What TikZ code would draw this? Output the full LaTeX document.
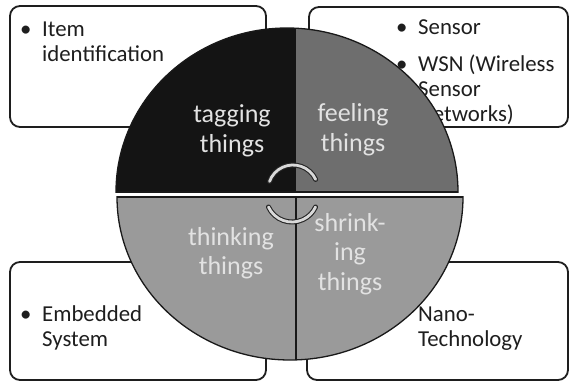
\documentclass[tikz,border=0pt]{standalone}
\usepackage{fontspec}
\setmainfont{Carlito}
\definecolor{topL}{HTML}{141414}
\definecolor{topR}{HTML}{6E6E6E}
\definecolor{botC}{HTML}{9A9A9A}
\definecolor{inText}{HTML}{E2E2E2}
\definecolor{boxText}{HTML}{1E1E1E}
\definecolor{boxLine}{HTML}{1E1E1E}
\tikzset{
  infobox/.style={draw=boxLine, line width=1.8pt, rounded corners=10pt, fill=white},
  boxlabel/.style={inner sep=0pt, anchor=base west, text=boxText, font=\fontsize{22.8}{25}\selectfont},
  seglabel/.style={inner sep=0pt, anchor=base, text=inText, font=\fontsize{26}{29.5}\selectfont},
  outline/.style={draw=black!90, line width=1.3pt},
  cyclearc/.style={draw=black!85, line width=1.1pt, double=black!15, double distance=2.8pt, line cap=round}
}
\begin{document}
\begin{tikzpicture}[x=1pt,y=-1pt]
\useasboundingbox (0,0) rectangle (570,382);
% boxes
\draw[infobox] (10,6) rectangle (266,127);
\draw[infobox] (309,7) rectangle (568,127);
\draw[infobox] (10,262) rectangle (266,380);
\draw[infobox] (307,262) rectangle (568,380);
% box texts
\node[boxlabel] (tl) at (20,37) {\begin{tabular}[t]{@{}p{22pt}@{}l@{}}•&Item\\&identification\end{tabular}};
\node[boxlabel] (tr) at (396,35) {\begin{tabular}[t]{@{}p{22pt}@{}l@{}}•&Sensor\\[12pt]•&WSN (Wireless\\&Sensor\\&Networks)\end{tabular}};
\node[boxlabel] (bl) at (20,321) {\begin{tabular}[t]{@{}p{22pt}@{}l@{}}•&Embedded\\&System\end{tabular}};
\node[boxlabel] (br) at (396,321) {\begin{tabular}[t]{@{}p{22pt}@{}l@{}}•&Nano-\\&Technology\end{tabular}};
% top half
\begin{scope}
  \clip (0,0) rectangle (570,192);
  \fill[topL] (287,192) ellipse[x radius=171pt, y radius=164pt];
  \clip (287,192) ellipse[x radius=171pt, y radius=164pt];
  \fill[topR] (296,0) rectangle (570,192);
\end{scope}
\begin{scope}
  \clip (0,0) rectangle (570,192.6);
  \draw[outline] (287,192) ellipse[x radius=171pt, y radius=164pt];
\end{scope}
\draw[outline] (116,192) -- (458,192);
% bottom half
\begin{scope}
  \clip (0,197) rectangle (570,382);
  \fill[botC] (290,197) ellipse[x radius=173pt, y radius=163pt];
\end{scope}
\begin{scope}
  \clip (0,196.4) rectangle (570,382);
  \draw[outline] (290,197) ellipse[x radius=173pt, y radius=163pt];
\end{scope}
\draw[outline] (117,197) -- (463,197);
\draw[outline] (296,197) -- (296,360);
% segment labels
\node[seglabel] (tag) at (232,123) {\begin{tabular}[t]{@{}c@{}}tagging\\things\end{tabular}};
\node[seglabel] (feel) at (353,122) {\begin{tabular}[t]{@{}c@{}}feeling\\things\end{tabular}};
\node[seglabel] (think) at (231,245) {\begin{tabular}[t]{@{}c@{}}thinking\\things\end{tabular}};
\node[seglabel] (shrink) at (350,231) {\begin{tabular}[t]{@{}c@{}}shrink-\\ing\\things\end{tabular}};
% cycle arcs
\draw[cyclearc] ([shift={(160:25pt)}]293,190) arc[start angle=160, end angle=25, radius=25pt];
\draw[cyclearc] ([shift={(205:26pt)}]292,196) arc[start angle=205, end angle=335, radius=26pt];
\end{tikzpicture}
\end{document}
